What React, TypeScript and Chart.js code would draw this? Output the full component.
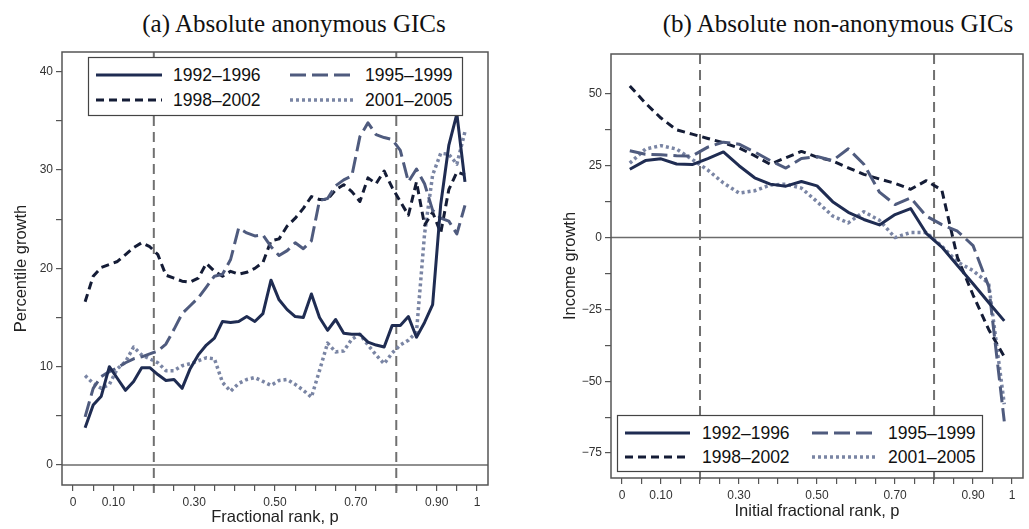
import React, { useEffect, useRef } from 'react';
import { Chart, registerables } from 'chart.js';

Chart.register(...registerables);

// ---------- data ----------
const seriesNames = ['1992–1996', '1995–1999', '1998–2002', '2001–2005'];

const leftRanks = [0.03, 0.05, 0.07, 0.09, 0.11, 0.13, 0.15, 0.17, 0.19, 0.21, 0.23, 0.25, 0.27, 0.29, 0.31, 0.33,
  0.35, 0.37, 0.39, 0.41, 0.43, 0.45, 0.47, 0.49, 0.51, 0.53, 0.55, 0.57, 0.59, 0.61, 0.63, 0.65, 0.67, 0.69, 0.71,
  0.73, 0.75, 0.77, 0.79, 0.81, 0.83, 0.85, 0.87, 0.89, 0.91, 0.93, 0.95, 0.97];
const left1992 = [3.8, 6.1, 7.0, 10.0, 8.8, 7.6, 8.5, 9.9, 9.9, 9.2, 8.6, 8.7, 7.8, 9.8, 11.2, 12.2, 12.9, 14.6, 14.5,
  14.6, 15.1, 14.6, 15.4, 18.8, 16.8, 15.8, 15.1, 15.0, 17.4, 15.0, 13.7, 14.8, 13.4, 13.3, 13.3, 12.5, 12.2, 12.0,
  14.2, 14.2, 15.1, 13.0, 14.5, 16.3, 26.5, 32.5, 35.7, 28.8];
const left1995 = [4.9, 7.8, 9.0, 9.5, 9.9, 10.4, 10.8, 11.0, 11.3, 11.6, 12.3, 13.8, 15.4, 16.2, 17.0, 18.1, 19.2, 19.4,
  20.9, 24.1, 23.6, 23.3, 23.4, 22.2, 21.3, 21.8, 22.6, 22.0, 22.8, 26.9, 27.1, 28.4, 29.0, 29.4, 33.4, 34.8, 33.6,
  33.3, 33.1, 32.0, 28.8, 30.1, 28.6, 25.9, 25.1, 24.8, 23.5, 26.4];
const left1998 = [16.6, 19.2, 20.1, 20.4, 20.7, 21.4, 22.1, 22.6, 22.2, 21.4, 19.3, 19.0, 18.7, 18.6, 19.0, 20.5, 19.7,
  19.2, 19.7, 19.4, 19.6, 20.0, 20.6, 22.8, 23.0, 24.3, 25.1, 26.1, 27.3, 27.0, 27.0, 28.0, 28.5, 27.8, 26.8, 29.2,
  28.6, 29.9, 28.2, 26.8, 25.4, 28.8, 24.4, 25.7, 23.6, 28.0, 29.8, 29.5];
const left2001 = [9.1, 8.3, 7.8, 8.2, 9.8, 10.5, 12.0, 11.2, 10.8, 10.4, 9.6, 9.6, 10.1, 10.3, 10.6, 10.9, 10.8, 8.4,
  7.5, 8.3, 8.7, 8.9, 8.5, 8.1, 8.6, 8.7, 8.2, 7.6, 6.9, 9.6, 12.4, 11.5, 11.6, 12.8, 13.3, 12.2, 11.2, 10.3, 11.4,
  12.2, 12.7, 13.5, 23.5, 29.5, 31.7, 31.6, 30.6, 33.9];

const rightRanks = [0.02, 0.06, 0.10, 0.14, 0.18, 0.22, 0.26, 0.30, 0.34, 0.38, 0.42, 0.46, 0.50, 0.54, 0.58, 0.62,
  0.66, 0.70, 0.74, 0.78, 0.82, 0.86, 0.90, 0.94, 0.98];
const right1992 = [23.8, 26.8, 27.4, 25.6, 25.4, 27.5, 29.8, 25.0, 20.8, 18.6, 17.9, 19.5, 18.0, 12.5, 8.8, 6.3, 4.4,
  8.0, 10.1, 1.5, -3.3, -9.7, -16.1, -22.6, -29.0];
const right1995 = [30.2, 29.0, 28.8, 28.5, 28.4, 31.5, 33.2, 32.5, 29.8, 26.8, 24.2, 27.5, 28.2, 26.8, 30.9, 25.5, 15.8,
  11.5, 13.8, 7.5, 4.5, 2.2, -2.8, -17.0, -64.0];
const right1998 = [52.8, 46.8, 41.6, 37.5, 36.0, 34.5, 33.0, 31.2, 28.5, 25.5, 27.8, 30.0, 28.0, 26.7, 24.3, 22.0, 20.4,
  18.9, 16.8, 19.8, 16.5, -7.0, -20.0, -32.0, -41.5];
const right2001 = [25.9, 30.8, 32.0, 30.8, 27.2, 23.5, 19.0, 15.5, 16.3, 18.3, 18.6, 17.2, 12.5, 7.5, 5.1, 9.0, 6.0,
  0.0, 1.8, 1.8, -3.0, -8.5, -11.5, -16.0, -58.0];

const xTickValues = [0, 0.05, 0.1, 0.15, 0.2, 0.25, 0.3, 0.35, 0.4, 0.45, 0.5, 0.55, 0.6, 0.65, 0.7, 0.75, 0.8, 0.85,
  0.9, 0.95, 1];
const xLabeledValues = [0, 0.1, 0.3, 0.5, 0.7, 0.9, 1];
const xLabelTexts = ['0', '0.10', '0.30', '0.50', '0.70', '0.90', '1'];

const leftYTickValues = [0, 5, 10, 15, 20, 25, 30, 35, 40];
const leftYLabeledValues = [0, 10, 20, 30, 40];
const leftYLabelTexts = ['0', '10', '20', '30', '40'];

const rightYTickValues = [50, 37.5, 25, 12.5, 0, -12.5, -25, -37.5, -50, -62.5, -75];
const rightYLabeledValues = [50, 25, 0, -25, -50, -75];
const rightYLabelTexts = ['50', '25', '0', '−25', '−50', '−75'];

const refVerticals = [0.2, 0.8];
const refHorizontals = [0];

// ---------- styles ----------
const lineStyles: Record<string, { color: string; dash: number[]; width: number }> = {
  '1992–1996': { color: '#1f2c52', dash: [], width: 3 },
  '1995–1999': { color: '#4f5b7e', dash: [16, 6], width: 3 },
  '1998–2002': { color: '#141c36', dash: [8, 5], width: 3 },
  '2001–2005': { color: '#7a85a4', dash: [3, 3], width: 3.5 },
};

const SANS = '"Liberation Sans", Arial, Helvetica, sans-serif';
const SERIF = '"Liberation Serif", "Times New Roman", serif';

const refPlugin = {
  id: 'refLines',
  beforeDatasetsDraw(chart: any) {
    const { ctx, chartArea, scales } = chart;
    ctx.save();
    ctx.strokeStyle = '#6b6b6b';
    ctx.lineWidth = 1.6;
    refHorizontals.forEach((v) => {
      const y = scales.y.getPixelForValue(v);
      ctx.beginPath();
      ctx.moveTo(chartArea.left, y);
      ctx.lineTo(chartArea.right, y);
      ctx.stroke();
    });
    ctx.setLineDash([10, 6]);
    ctx.lineWidth = 2;
    ctx.strokeStyle = '#707070';
    refVerticals.forEach((v) => {
      const x = scales.x.getPixelForValue(v);
      ctx.beginPath();
      ctx.moveTo(x, chartArea.top);
      ctx.lineTo(x, chartArea.bottom + 8);
      ctx.stroke();
    });
    ctx.restore();
  },
  afterDraw(chart: any) {
    const { ctx, chartArea } = chart;
    ctx.save();
    ctx.strokeStyle = '#555';
    ctx.lineWidth = 1.5;
    ctx.strokeRect(chartArea.left, chartArea.top, chartArea.right - chartArea.left, chartArea.bottom - chartArea.top);
    ctx.restore();
  },
};

function labelFor(values: number[], texts: string[], v: number) {
  const i = values.findIndex((t) => Math.abs(t - v) < 1e-6);
  return i >= 0 ? texts[i] : '';
}

type PanelCfg = {
  left: number;
  w: number;
  h: number;
  padTop: number;
  padRight: number;
  yAxisW: number;
  xAxisH: number;
  xMin: number;
  xMax: number;
  yMin: number;
  yMax: number;
  ranks: number[];
  values: number[][];
  yTicks: number[];
  yLabeled: number[];
  yLabels: string[];
  xTitle: string;
  yTitle: string;
  xTitlePadBottom: number;
  yTitlePadTop: number;
  xTickPad: number;
};

function Panel({ cfg }: { cfg: PanelCfg }) {
  const ref = useRef<HTMLCanvasElement>(null);
  useEffect(() => {
    const datasets = seriesNames.map((name, k) => ({
      label: name,
      data: cfg.ranks.map((x, i) => ({ x, y: cfg.values[k][i] })),
      borderColor: lineStyles[name].color,
      borderWidth: lineStyles[name].width,
      borderDash: lineStyles[name].dash,
      borderCapStyle: 'butt',
      borderJoinStyle: 'round',
      pointRadius: 0,
      fill: false,
      tension: 0,
    }));
    const chart = new Chart(ref.current as HTMLCanvasElement, {
      type: 'line',
      data: { datasets } as any,
      options: {
        animation: false,
        responsive: false,
        layout: { padding: { left: 0, top: cfg.padTop, right: cfg.padRight, bottom: 0 } },
        plugins: { legend: { display: false }, tooltip: { enabled: false }, title: { display: false } },
        scales: {
          x: {
            type: 'linear',
            min: cfg.xMin,
            max: cfg.xMax,
            afterBuildTicks: (s: any) => {
              s.ticks = xTickValues.map((v) => ({ value: v }));
            },
            afterFit: (s: any) => {
              s.height = cfg.xAxisH;
            },
            ticks: {
              autoSkip: false,
              maxRotation: 0,
              minRotation: 0,
              padding: cfg.xTickPad,
              color: '#333',
              font: { family: SANS, size: 12 },
              callback: (v: any) => labelFor(xLabeledValues, xLabelTexts, Number(v)),
            },
            grid: { drawOnChartArea: false, drawTicks: true, tickLength: 6, color: '#555', lineWidth: 1.2 },
            border: { display: false },
            title: {
              display: true,
              text: cfg.xTitle,
              color: '#222',
              font: { family: SANS, size: 16.5 },
              padding: { top: 0, bottom: cfg.xTitlePadBottom },
            },
          },
          y: {
            type: 'linear',
            min: cfg.yMin,
            max: cfg.yMax,
            afterBuildTicks: (s: any) => {
              s.ticks = cfg.yTicks.map((v) => ({ value: v }));
            },
            afterFit: (s: any) => {
              s.width = cfg.yAxisW;
            },
            ticks: {
              autoSkip: false,
              padding: 3,
              color: '#333',
              font: { family: SANS, size: 12 },
              callback: (v: any) => labelFor(cfg.yLabeled, cfg.yLabels, Number(v)),
            },
            grid: { drawOnChartArea: false, drawTicks: true, tickLength: 6, color: '#555', lineWidth: 1.2 },
            border: { display: false },
            title: {
              display: true,
              text: cfg.yTitle,
              color: '#222',
              font: { family: SANS, size: 16.5 },
              padding: { top: cfg.yTitlePadTop, bottom: 0 },
            },
          },
        },
      } as any,
      plugins: [refPlugin],
    });
    return () => chart.destroy();
  }, []);
  return (
    <canvas
      ref={ref}
      width={cfg.w}
      height={cfg.h}
      style={{ position: 'absolute', left: cfg.left, top: 0, width: cfg.w, height: cfg.h }}
    />
  );
}

function Legend({ left, top, width, height, s1, t1, s2, t2, rows }: any) {
  const order = [
    [seriesNames[0], seriesNames[1]],
    [seriesNames[2], seriesNames[3]],
  ];
  return (
    <svg
      width={width}
      height={height}
      style={{ position: 'absolute', left, top, overflow: 'visible' }}
    >
      <rect x={0.5} y={0.5} width={width - 1} height={height - 1} fill="#fff" stroke="#444" strokeWidth={1.2} />
      {order.map((row, r) =>
        row.map((name, c) => {
          const st = lineStyles[name];
          const sx = c === 0 ? s1 : s2;
          const tx = c === 0 ? t1 : t2;
          return (
            <g key={name}>
              <line
                x1={sx[0]}
                x2={sx[1]}
                y1={rows[r]}
                y2={rows[r]}
                stroke={st.color}
                strokeWidth={st.width}
                strokeDasharray={st.dash.length ? st.dash.join(' ') : undefined}
              />
              <text
                x={tx}
                y={rows[r]}
                dominantBaseline="central"
                fontFamily={SANS}
                fontSize={17.5}
                fill="#111"
              >
                {name}
              </text>
            </g>
          );
        })
      )}
    </svg>
  );
}

const leftCfg: PanelCfg = {
  left: 0,
  w: 505,
  h: 529,
  padTop: 52,
  padRight: 17,
  yAxisW: 62,
  xAxisH: 44,
  xMin: -0.0272,
  xMax: 1.027,
  yMin: -2.03,
  yMax: 42.0,
  ranks: leftRanks,
  values: [left1992, left1995, left1998, left2001],
  yTicks: leftYTickValues,
  yLabeled: leftYLabeledValues,
  yLabels: leftYLabelTexts,
  xTitle: 'Fractional rank, p',
  yTitle: 'Percentile growth',
  xTitlePadBottom: 2,
  yTitlePadTop: 12,
  xTickPad: 4,
};

const rightCfg: PanelCfg = {
  left: 505,
  w: 524,
  h: 529,
  padTop: 54,
  padRight: 6,
  yAxisW: 106,
  xAxisH: 51,
  xMin: -0.0282,
  xMax: 1.028,
  yMin: -83.7,
  yMax: 63.9,
  ranks: rightRanks,
  values: [right1992, right1995, right1998, right2001],
  yTicks: rightYTickValues,
  yLabeled: rightYLabeledValues,
  yLabels: rightYLabelTexts,
  xTitle: 'Initial fractional rank, p',
  yTitle: 'Income growth',
  xTitlePadBottom: 8,
  yTitlePadTop: 56,
  xTickPad: 4,
};

export default function App() {
  const titleStyle: React.CSSProperties = {
    position: 'absolute',
    top: 9,
    width: 600,
    textAlign: 'center',
    fontFamily: SERIF,
    fontSize: 25,
    lineHeight: '30px',
    color: '#111',
    whiteSpace: 'nowrap',
  };
  return (
    <div style={{ position: 'fixed', left: 0, top: 0, width: 1029, height: 529, background: '#fff', overflow: 'hidden' }}>
      <div style={{ ...titleStyle, left: 294 - 300 }}>(a) Absolute anonymous GICs</div>
      <div style={{ ...titleStyle, left: 838 - 300 }}>(b) Absolute non-anonymous GICs</div>
      <Panel cfg={leftCfg} />
      <Panel cfg={rightCfg} />
      <Legend left={88} top={57} width={375} height={59} s1={[8, 74]} t1={85} s2={[202, 267]} t2={277} rows={[18, 43]} />
      <Legend left={617} top={415} width={366} height={57} s1={[8, 73]} t1={85} s2={[195, 260]} t2={271} rows={[18, 42]} />
    </div>
  );
}
